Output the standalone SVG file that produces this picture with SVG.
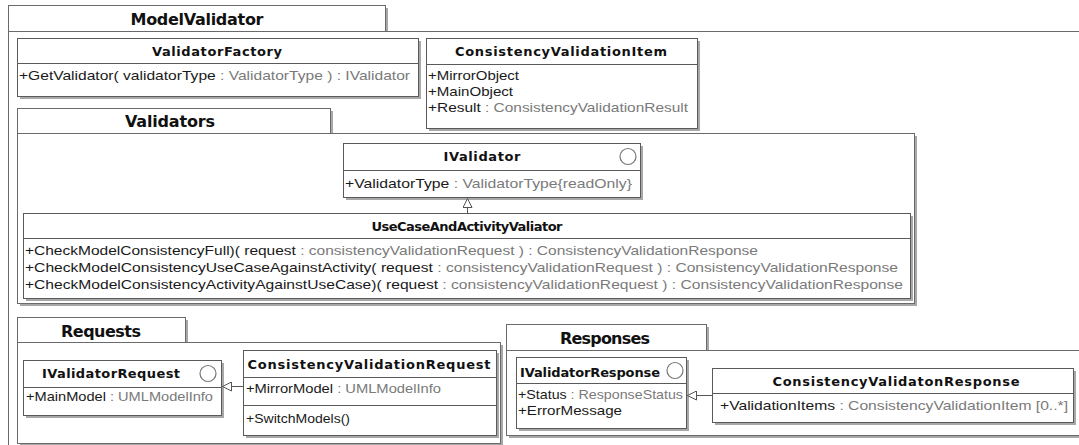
<svg xmlns="http://www.w3.org/2000/svg" width="1079" height="445" viewBox="0 0 1079 445">
<defs>
<style>
.sh{fill:#a8a8a8}
.bx{fill:#fff;stroke:#5a5a5a;stroke-width:1}
.fr{fill:#fff;stroke:#6a6a6a;stroke-width:1}
.sep{stroke:#5a5a5a;stroke-width:1}
.ttl{font-family:"DejaVu Sans",sans-serif;font-weight:bold;font-size:13px;fill:#111;text-anchor:middle}
.pkg{font-family:"DejaVu Sans",sans-serif;font-weight:bold;font-size:16px;fill:#111;text-anchor:middle}
.t{font-family:"Liberation Sans",Arial,sans-serif;font-size:13px;fill:#1a1a1a}
.g{fill:#7a7a7a}
.ic{fill:#fff;stroke:#777;stroke-width:1.2}
.ln{stroke:#555;stroke-width:1;fill:none}
</style>
<marker id="gen" viewBox="0 0 10 10" refX="10" refY="5" markerWidth="10" markerHeight="10" orient="auto" markerUnits="userSpaceOnUse">
<path d="M0.5,0.5 L9.5,5 L0.5,9.5 z" fill="#fff" stroke="#555" stroke-width="1"/>
</marker>
</defs>
<rect width="1079" height="445" fill="#fff"/>

<g id="ModelValidator">
<rect class="sh" x="11" y="34" width="1100" height="430"/>
<rect class="fr" x="8.5" y="31.5" width="1100" height="430"/>
<rect class="sh" x="11" y="8" width="377" height="23"/>
<rect class="fr" x="8.5" y="5.5" width="377" height="26"/>
<text class="pkg" x="197" y="25" textLength="133">ModelValidator</text>
</g>

<g id="ValidatorFactory">
<rect class="sh" x="20" y="41" width="401" height="58"/>
<rect class="bx" x="17.5" y="38.5" width="401" height="58"/>
<line class="sep" x1="17.5" y1="63.5" x2="418.5" y2="63.5"/>
<text class="ttl" x="217" y="56" textLength="130">ValidatorFactory</text>
<text class="t" x="19" y="80" textLength="391" lengthAdjust="spacingAndGlyphs">+GetValidator( validatorType <tspan class="g">: ValidatorType ) : IValidator</tspan></text>
</g>

<g id="ConsistencyValidationItem">
<rect class="sh" x="429" y="41" width="271" height="90"/>
<rect class="bx" x="426.5" y="38.5" width="271" height="90"/>
<line class="sep" x1="426.5" y1="64.5" x2="697.5" y2="64.5"/>
<text class="ttl" x="561" y="56" textLength="212">ConsistencyValidationItem</text>
<text class="t" x="428" y="80" textLength="91" lengthAdjust="spacingAndGlyphs">+MirrorObject</text>
<text class="t" x="428" y="96" textLength="85" lengthAdjust="spacingAndGlyphs">+MainObject</text>
<text class="t" x="428" y="112" textLength="260" lengthAdjust="spacingAndGlyphs">+Result <tspan class="g">: ConsistencyValidationResult</tspan></text>
</g>

<g id="Validators">
<rect class="sh" x="20" y="136" width="897" height="170"/>
<rect class="fr" x="17.5" y="133.5" width="897" height="170"/>
<rect class="sh" x="20" y="111" width="313" height="22"/>
<rect class="fr" x="17.5" y="108.5" width="313" height="25"/>
<text class="pkg" x="170" y="127" textLength="90">Validators</text>
</g>

<g id="IValidator">
<rect class="sh" x="346" y="146" width="297" height="54"/>
<rect class="bx" x="343.5" y="143.5" width="297" height="54"/>
<line class="sep" x1="343.5" y1="170.5" x2="640.5" y2="170.5"/>
<circle class="ic" cx="628" cy="156.5" r="8"/>
<text class="ttl" x="482" y="161" textLength="77">IValidator</text>
<text class="t" x="345" y="188" textLength="287" lengthAdjust="spacingAndGlyphs">+ValidatorType <tspan class="g">: ValidatorType{readOnly}</tspan></text>
</g>

<g id="UseCaseAndActivityValiator">
<rect class="sh" x="26" y="216" width="887" height="85"/>
<rect class="bx" x="23.5" y="213.5" width="887" height="85"/>
<line class="sep" x1="23.5" y1="238.5" x2="910.5" y2="238.5"/>
<text class="ttl" x="467" y="231" textLength="191">UseCaseAndActivityValiator</text>
<text class="t" x="25" y="255" textLength="733" lengthAdjust="spacingAndGlyphs">+CheckModelConsistencyFull)( request <tspan class="g">: consistencyValidationRequest ) : ConsistencyValidationResponse</tspan></text>
<text class="t" x="25" y="272" textLength="873" lengthAdjust="spacingAndGlyphs">+CheckModelConsistencyUseCaseAgainstActivity( request <tspan class="g">: consistencyValidationRequest ) : ConsistencyValidationResponse</tspan></text>
<text class="t" x="25" y="289" textLength="878" lengthAdjust="spacingAndGlyphs">+CheckModelConsistencyActivityAgainstUseCase)( request <tspan class="g">: consistencyValidationRequest ) : ConsistencyValidationResponse</tspan></text>
</g>

<g id="Requests">
<rect class="sh" x="20" y="345" width="483" height="101"/>
<rect class="fr" x="17.5" y="342.5" width="483" height="101"/>
<rect class="sh" x="20" y="320" width="168" height="22"/>
<rect class="fr" x="17.5" y="317.5" width="168" height="25"/>
<text class="pkg" x="101" y="337" textLength="80">Requests</text>
</g>

<g id="IValidatorRequest">
<rect class="sh" x="26" y="363" width="198" height="55"/>
<rect class="bx" x="23.5" y="360.5" width="198" height="55"/>
<line class="sep" x1="23.5" y1="387.5" x2="221.5" y2="387.5"/>
<circle class="ic" cx="208" cy="373.5" r="8"/>
<text class="ttl" x="111" y="378" textLength="138">IValidatorRequest</text>
<text class="t" x="26" y="401" textLength="187" lengthAdjust="spacingAndGlyphs">+MainModel <tspan class="g">: UMLModelInfo</tspan></text>
</g>

<g id="ConsistencyValidationRequest">
<rect class="sh" x="246" y="353" width="253" height="85"/>
<rect class="bx" x="243.5" y="350.5" width="253" height="85"/>
<line class="sep" x1="243.5" y1="377.5" x2="496.5" y2="377.5"/>
<line class="sep" x1="243.5" y1="405.5" x2="496.5" y2="405.5"/>
<text class="ttl" x="369" y="369" textLength="243">ConsistencyValidationRequest</text>
<text class="t" x="246" y="393" textLength="195" lengthAdjust="spacingAndGlyphs">+MirrorModel <tspan class="g">: UMLModelInfo</tspan></text>
<text class="t" x="246" y="423" textLength="104" lengthAdjust="spacingAndGlyphs">+SwitchModels()</text>
</g>

<g id="Responses">
<rect class="sh" x="509" y="353" width="600" height="85"/>
<rect class="fr" x="506.5" y="350.5" width="600" height="85"/>
<rect class="sh" x="509" y="327" width="200" height="23"/>
<rect class="fr" x="506.5" y="324.5" width="200" height="26"/>
<text class="pkg" x="605" y="344" textLength="90">Responses</text>
</g>

<g id="IValidatorResponse">
<rect class="sh" x="519" y="360" width="170" height="71"/>
<rect class="bx" x="516.5" y="357.5" width="170" height="71"/>
<line class="sep" x1="516.5" y1="383.5" x2="686.5" y2="383.5"/>
<circle class="ic" cx="675" cy="370.5" r="8"/>
<text class="ttl" x="590" y="377" textLength="140">IValidatorResponse</text>
<text class="t" x="518" y="399" textLength="165" lengthAdjust="spacingAndGlyphs">+Status <tspan class="g">: ResponseStatus</tspan></text>
<text class="t" x="518" y="415" textLength="104" lengthAdjust="spacingAndGlyphs">+ErrorMessage</text>
</g>

<g id="ConsistencyValidatonResponse">
<rect class="sh" x="715" y="371" width="361" height="54"/>
<rect class="bx" x="712.5" y="368.5" width="361" height="54"/>
<line class="sep" x1="712.5" y1="393.5" x2="1073.5" y2="393.5"/>
<text class="ttl" x="896" y="386" textLength="247">ConsistencyValidatonResponse</text>
<text class="t" x="720" y="410" textLength="348" lengthAdjust="spacingAndGlyphs">+ValidationItems <tspan class="g">: ConsistencyValidationItem [0..*]</tspan></text>
</g>

<g id="connectors">
<path class="ln" d="M467.5,213 L467.5,198" marker-end="url(#gen)"/>
<path class="ln" d="M243,386.5 L222,386.5" marker-end="url(#gen)"/>
<path class="ln" d="M712,395.5 L687,395.5" marker-end="url(#gen)"/>
</g>
</svg>
